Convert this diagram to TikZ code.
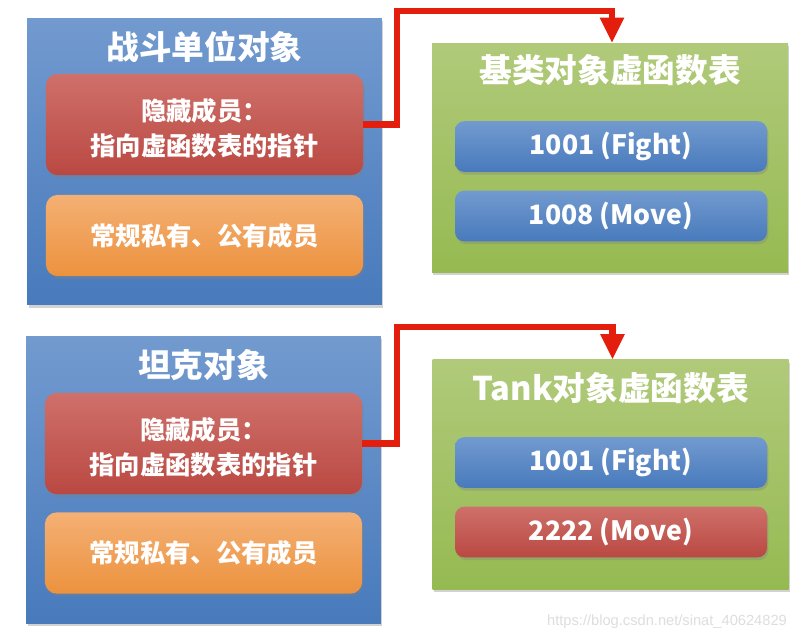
\documentclass[tikz,border=0pt]{standalone}
\usepackage{fontspec}
\newfontfamily\cjk{Noto Sans CJK SC}
\newfontfamily\wmfont{Liberation Sans}
\usetikzlibrary{arrows.meta,shadows}

\definecolor{objblueA}{RGB}{114,154,207}
\definecolor{objblueB}{RGB}{72,122,188}
\definecolor{hidredA}{RGB}{207,112,106}
\definecolor{hidredB}{RGB}{186,72,66}
\definecolor{memorA}{RGB}{244,176,116}
\definecolor{memorB}{RGB}{236,146,62}
\definecolor{vtgreenA}{RGB}{176,202,122}
\definecolor{vtgreenB}{RGB}{150,186,82}
\definecolor{ptrred}{RGB}{228,30,12}

\tikzset{
  boxshadow/.style={drop shadow={opacity=0.35,shadow xshift=1pt,shadow yshift=-2pt}},
  objbox/.style={rectangle, boxshadow, top color=objblueA, bottom color=objblueB,
    minimum width=266pt, minimum height=215pt},
  vtbox/.style={rectangle, boxshadow, top color=vtgreenA, bottom color=vtgreenB,
    minimum width=267pt, minimum height=172pt},
  title/.style={text=white, font=\cjk\bfseries\fontsize{24.5}{28}\selectfont},
  member/.style={rectangle, rounded corners=9pt, boxshadow, text=white, align=center,
    minimum width=238pt, font=\cjk\bfseries\fontsize{19}{26}\selectfont},
  hidden/.style={member, top color=hidredA, bottom color=hidredB, minimum height=76pt},
  hidtext/.style={text=white, align=center, yshift=-3pt,
    font=\cjk\bfseries\fontsize{19}{26}\selectfont},
  normal/.style={member, top color=memorA, bottom color=memorB, minimum height=61pt},
  slot/.style={rectangle, rounded corners=7pt, boxshadow, text=white,
    minimum width=234pt, minimum height=38pt, font=\cjk\bfseries\fontsize{20}{24}\selectfont},
  bluslot/.style={slot, top color=objblueA, bottom color=objblueB},
  redslot/.style={slot, top color=hidredA, bottom color=hidredB},
  ptr/.style={draw=ptrred, line width=5pt, -{Triangle[width=17pt,length=19pt]}}
}

\begin{document}
\begin{tikzpicture}[x=0.75pt,y=-0.75pt]
\useasboundingbox[fill=white] (0,0) rectangle (806,640);

% Base object
\node[objbox] (obj1) at (204.5,161.5) {};
\node[title] (objt1) at (204.5,47) {战斗单位对象};
\node[hidden, label={[hidtext]center:{隐藏成员：\\指向虚函数表的指针}}] (hid1) at (204.5,124.5) {};
\node[normal] (mem1) at (204.5,235.5) {常规私有、公有成员};

% Base vtable
\node[vtbox] (vt1) at (610,158) {};
\node[title] (vtt1) at (610,70) {基类对象虚函数表};
\node[bluslot] (fn11) at (611,146.5) {1001 (Fight)};
\node[bluslot] (fn12) at (611,216) {1008 (Move)};

% Tank object
\node[objbox] (obj2) at (203.5,480) {};
\node[title] (objt2) at (203.5,365) {坦克对象};
\node[hidden, label={[hidtext]center:{隐藏成员：\\指向虚函数表的指针}}] (hid2) at (203.5,443.5) {};
\node[normal] (mem2) at (203.5,553) {常规私有、公有成员};

% Tank vtable
\node[vtbox] (vt2) at (610.5,474.5) {};
\node[title] (vtt2) at (610.5,388) {Tank对象虚函数表};
\node[bluslot] (fn21) at (611,462.5) {1001 (Fight)};
\node[redslot] (fn22) at (611,532) {2222 (Move)};

% pointers
\coordinate (turn1) at (397,11);
\coordinate (turn2) at (397,327);
\draw[ptr] (hid1.east) -| (turn1) -| ([xshift=1.5pt]vt1.north);
\draw[ptr] (hid2.east) -| (turn2) -| ([xshift=1.5pt]vt2.north);

\node[text=black!13, font=\wmfont\fontsize{11}{13}\selectfont] (wm) at (667,622) {https://blog.csdn.net/sinat\_40624829};

\end{tikzpicture}
\end{document}
